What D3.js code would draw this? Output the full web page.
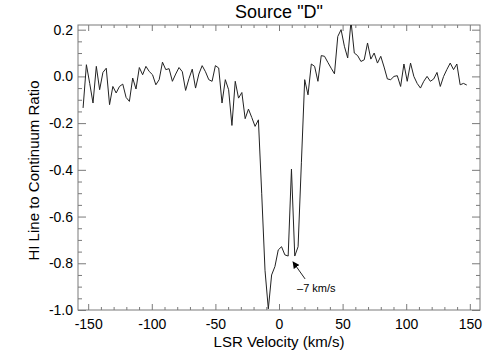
<!DOCTYPE html>
<html>
<head>
<meta charset="utf-8">
<script src="https://cdn.jsdelivr.net/npm/d3@7"></script>
<style>
    body { margin: 0; background: #fff; }
    text { font-family: "Liberation Sans", Arial, sans-serif; fill: #000; }
</style>
</head>
<body>
<div id="graph"></div>
<script>
'use strict';

// LSR velocity of each channel (km/s)
const velocity = [
    -154.0, -151.4, -148.8, -146.2, -143.6, -141.0, -138.4, -135.8, -133.2, -130.6,
    -128.0, -125.4, -122.8, -120.2, -117.6, -115.0, -112.4, -109.8, -107.2, -104.6,
    -102.0, -99.4, -96.8, -94.2, -91.6, -89.0, -86.4, -83.8, -81.2, -78.6,
    -76.0, -73.4, -70.8, -68.2, -65.6, -63.0, -60.4, -57.8, -55.2, -52.6,
    -50.0, -47.4, -44.8, -42.2, -39.6, -37.0, -34.4, -31.8, -29.2, -26.6,
    -24.0, -21.4, -18.8, -16.2, -13.6, -11.0, -8.4, -5.8, -3.2, -0.6,
    2.0, 4.6, 7.2, 9.8, 12.4, 15.0, 17.6, 20.2, 22.8, 25.4,
    28.0, 30.6, 33.2, 35.8, 38.4, 41.0, 43.6, 46.2, 48.8, 51.4,
    54.0, 56.6, 59.2, 61.8, 64.4, 67.0, 69.6, 72.2, 74.8, 77.4,
    80.0, 82.6, 85.2, 87.8, 90.4, 93.0, 95.6, 98.2, 100.8, 103.4,
    106.0, 108.6, 111.2, 113.8, 116.4, 119.0, 121.6, 124.2, 126.8, 129.4,
    132.0, 134.6, 137.2, 139.8, 142.4, 145.0, 147.6
];

// HI line to continuum ratio
const ratio = [
    -0.135, 0.050, -0.030, -0.114, 0.043, -0.057, 0.017, 0.035, -0.121, -0.043,
    -0.071, -0.043, -0.033, -0.090, -0.107, -0.007, -0.054, 0.038, 0.007, 0.043,
    0.021, 0.007, -0.036, -0.014, 0.061, 0.029, 0.033, -0.021, 0.010, 0.038,
    0.020, -0.060, -0.010, 0.031, -0.050, 0.010, 0.046, 0.020, -0.014, -0.021,
    0.046, 0.036, -0.114, -0.014, -0.057, -0.210, -0.021, -0.093, -0.069, -0.181,
    -0.140, -0.176, -0.214, -0.186, -0.500, -0.830, -0.995, -0.850, -0.814, -0.743,
    -0.729, -0.764, -0.769, -0.397, -0.769, -0.729, -0.370, -0.014, -0.079, 0.053,
    0.043, -0.021, 0.089, 0.086, 0.060, 0.035, 0.011, 0.171, 0.200, 0.129,
    0.079, 0.235, 0.100, 0.089, 0.064, 0.071, 0.143, 0.074, 0.100, 0.057,
    0.086, 0.040, -0.011, -0.014, 0.000, 0.003, -0.043, 0.053, -0.021, 0.057,
    0.000, -0.030, -0.050, -0.021, 0.000, -0.021, -0.011, 0.017, -0.043, 0.000,
    0.030, 0.057, 0.029, 0.053, -0.036, -0.030, -0.037
];

const xTicks = [-150, -100, -50, 0, 50, 100, 150];
const xTickLabels = ['-150', '-100', '-50', '0', '50', '100', '150'];
const yTicks = [-1.0, -0.8, -0.6, -0.4, -0.2, 0.0, 0.2];
const yTickLabels = ['-1.0', '-0.8', '-0.6', '-0.4', '-0.2', '0.0', '0.2'];

// arrow label: [tail velocity, tail ratio, tip velocity, tip ratio]
const arrowPoints = [20.5, -0.867, 11.0, -0.794];
const arrowLabel = '\u20137 km/s';
const arrowLabelAt = [14.2, -0.923];

const measurements = {
    width: 504,
    height: 360,
    left: 78,
    right: 480,
    top: 25,
    bottom: 310
};

let svg = d3.select('#graph')
    .append('svg')
    .attr('width', measurements.width)
    .attr('height', measurements.height);

let xScale = d3.scaleLinear()
    .domain([-158, 158])
    .range([measurements.left, measurements.right]);

let yScale = d3.scaleLinear()
    .domain([-1.0, 0.22])
    .range([measurements.bottom, measurements.top]);

const axisColor = '#7a7a7a';
const plotW = measurements.right - measurements.left;
const plotH = measurements.bottom - measurements.top;

// minor tick values
let xMinor = d3.range(-150, 151, 10).filter((d) => d % 50 !== 0);
let yMinor = d3.range(-100, 21, 5).map((d) => d / 100).filter((d) => Math.round(d * 100) % 20 !== 0);

function styleAxis(g) {
    g.select('.domain').remove();
    g.selectAll('line').attr('stroke', axisColor);
}

function styleLabels(g) {
    g.selectAll('text')
        .attr('font-size', 14)
        .style('font-family', '"Liberation Sans", Arial, sans-serif')
        .attr('fill', '#000');
}

// bottom axis with labels
svg.append('g')
    .attr('transform', 'translate(0,' + measurements.bottom + ')')
    .call(d3.axisBottom(xScale).tickValues(xTicks).tickSize(-6).tickPadding(9)
        .tickFormat((d, i) => xTickLabels[i]))
    .call(styleAxis)
    .call(styleLabels);

svg.append('g')
    .attr('transform', 'translate(0,' + measurements.bottom + ')')
    .call(d3.axisBottom(xScale).tickValues(xMinor).tickSize(-3).tickFormat(''))
    .call(styleAxis);

// top axis, ticks only
svg.append('g')
    .attr('transform', 'translate(0,' + measurements.top + ')')
    .call(d3.axisTop(xScale).tickValues(xTicks).tickSize(-6).tickFormat(''))
    .call(styleAxis);
svg.append('g')
    .attr('transform', 'translate(0,' + measurements.top + ')')
    .call(d3.axisTop(xScale).tickValues(xMinor).tickSize(-3).tickFormat(''))
    .call(styleAxis);

// left axis with labels
svg.append('g')
    .attr('transform', 'translate(' + measurements.left + ',0)')
    .call(d3.axisLeft(yScale).tickValues(yTicks).tickSize(-8).tickPadding(5)
        .tickFormat((d, i) => yTickLabels[i]))
    .call(styleAxis)
    .call(styleLabels);
svg.append('g')
    .attr('transform', 'translate(' + measurements.left + ',0)')
    .call(d3.axisLeft(yScale).tickValues(yMinor).tickSize(-4).tickFormat(''))
    .call(styleAxis);

// right axis, ticks only
svg.append('g')
    .attr('transform', 'translate(' + measurements.right + ',0)')
    .call(d3.axisRight(yScale).tickValues(yTicks).tickSize(-8).tickFormat(''))
    .call(styleAxis);
svg.append('g')
    .attr('transform', 'translate(' + measurements.right + ',0)')
    .call(d3.axisRight(yScale).tickValues(yMinor).tickSize(-4).tickFormat(''))
    .call(styleAxis);

// frame
svg.append('rect')
    .attr('x', measurements.left)
    .attr('y', measurements.top)
    .attr('width', plotW)
    .attr('height', plotH)
    .attr('fill', 'none')
    .attr('stroke', axisColor)
    .attr('stroke-width', 1);

// spectrum
svg.append('clipPath')
    .attr('id', 'plotclip')
    .append('rect')
    .attr('x', measurements.left)
    .attr('y', measurements.top)
    .attr('width', plotW)
    .attr('height', plotH);

let line = d3.line()
    .x((d, i) => xScale(velocity[i]))
    .y((d) => yScale(d));

svg.append('path')
    .datum(ratio)
    .attr('clip-path', 'url(#plotclip)')
    .attr('d', line)
    .attr('fill', 'none')
    .attr('stroke', '#222')
    .attr('stroke-width', 1);

// arrow annotation
svg.append('defs')
    .append('marker')
    .attr('id', 'arrowhead')
    .attr('viewBox', '0 0 10 10')
    .attr('refX', 9)
    .attr('refY', 5)
    .attr('markerWidth', 7)
    .attr('markerHeight', 7)
    .attr('markerUnits', 'userSpaceOnUse')
    .attr('orient', 'auto')
    .append('path')
    .attr('d', 'M0,0L10,5L0,10Z')
    .attr('fill', '#000');

svg.append('line')
    .attr('x1', xScale(arrowPoints[0]))
    .attr('y1', yScale(arrowPoints[1]))
    .attr('x2', xScale(arrowPoints[2]))
    .attr('y2', yScale(arrowPoints[3]))
    .attr('stroke', '#222')
    .attr('stroke-width', 1)
    .attr('marker-end', 'url(#arrowhead)');

svg.append('text')
    .attr('x', xScale(arrowLabelAt[0]))
    .attr('y', yScale(arrowLabelAt[1]))
    .attr('font-size', 11)
    .text(arrowLabel);

// labels
svg.append('text')
    .attr('x', (measurements.left + measurements.right) / 2)
    .attr('y', 18)
    .attr('text-anchor', 'middle')
    .attr('font-size', 18)
    .text('Source "D"');

svg.append('text')
    .attr('x', (measurements.left + measurements.right) / 2)
    .attr('y', 347)
    .attr('text-anchor', 'middle')
    .attr('font-size', 15)
    .text('LSR Velocity (km/s)');

svg.append('text')
    .attr('transform', 'translate(39,' + ((measurements.top + measurements.bottom) / 2 + 3) + ')rotate(-90)')
    .attr('text-anchor', 'middle')
    .attr('font-size', 15)
    .text('HI Line to Continuum Ratio');
</script>
</body>
</html>
